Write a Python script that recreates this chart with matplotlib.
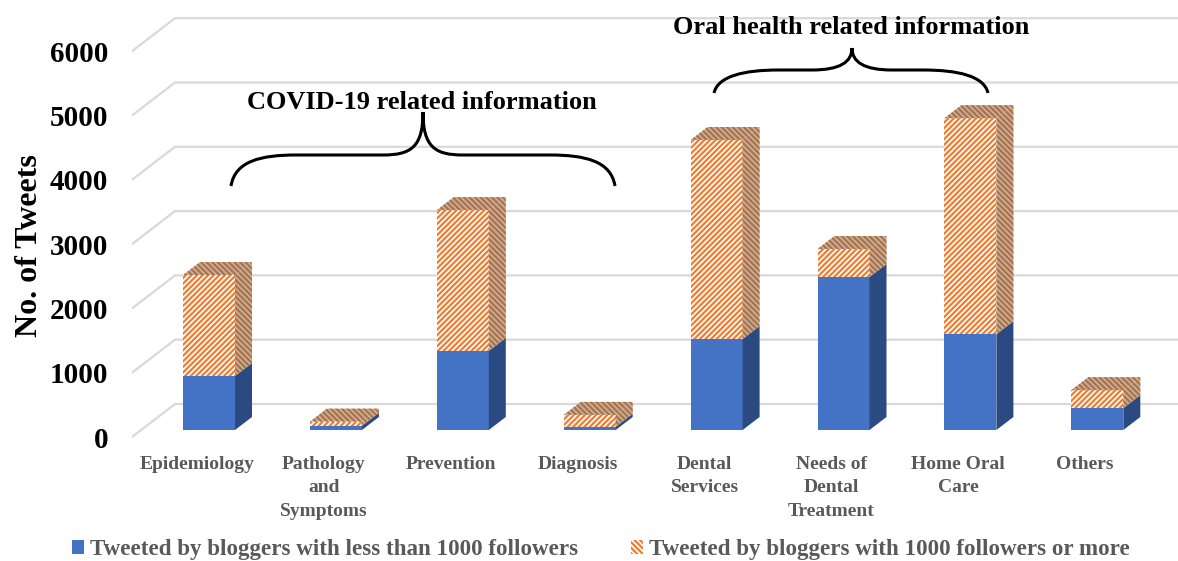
import matplotlib
matplotlib.use("Agg")
import matplotlib.pyplot as plt
from matplotlib.patches import Polygon, PathPatch, Patch
from matplotlib.path import Path
from matplotlib.transforms import Affine2D

categories = ["Epidemiology", "Pathology\nand\nSymptoms", "Prevention", "Diagnosis",
              "Dental\nServices", "Needs of\nDental\nTreatment", "Home Oral\nCare", "Others"]
under_1000 = [840, 65, 1230, 50, 1415, 2380, 1490, 340]
over_1000 = [1570, 65, 2190, 185, 3095, 435, 3360, 280]
y_ticks = [0, 1000, 2000, 3000, 4000, 5000, 6000]
legend_labels = ["Tweeted by bloggers with less than 1000 followers",
                 "Tweeted by bloggers with 1000 followers or more"]

W, H = 1178, 561
PX_X = 126.9
PX_Y = 64.3 / 1000
BLUE, BLUE_DARK = "#4472c4", "#2b4a82"
ORANGE, BROWN_BG, BROWN_HATCH = "#ed7d31", "#cdb09a", "#a8734a"
GRAY = "#595959"
HATCH_FRONT = "/" * 6
HATCH_BACK = "\\" * 6

plt.rcParams["font.family"] = ["Liberation Serif", "DejaVu Serif"]
plt.rcParams["font.weight"] = "bold"
plt.rcParams["axes.labelweight"] = "bold"
plt.rcParams["hatch.linewidth"] = 1.6

fig = plt.figure(figsize=(W / 100, H / 100), dpi=100)
ax = fig.add_axes([132 / W, 111 / H, (W - 132) / W, 450 / H])
ax.set_xlim((132 - 209) / PX_X, (W - 209) / PX_X)
ax.set_ylim(-20 / PX_Y, 430 / PX_Y)
for s in ax.spines.values():
    s.set_visible(False)

bar_w = 52 / PX_X
dx = 17 / PX_X
dy = 13 / PX_Y
x0 = ax.get_xlim()[0]
x_end = ax.get_xlim()[1]

# the axis sits on the front of the floor, a little below the bars
floor = -7 / PX_Y
for v in y_ticks:
    ax.plot([x0, x0 + 43 / PX_X, x_end], [v + floor, v + floor + 33 / PX_Y, v + floor + 33 / PX_Y],
            color="#d9d9d9", lw=1.6, zorder=1, solid_joinstyle="miter")

ax.set_yticks([v + floor for v in y_ticks], [str(v) for v in y_ticks], fontsize=21, color="black")
ax.set_xticks([i - 0.095 for i in range(len(categories))], categories, fontsize=14, color=GRAY,
              linespacing=1.5)
ax.tick_params(axis="y", length=0, pad=17)
ax.tick_params(axis="x", length=0, pad=4)
ax.set_ylabel("No. of Tweets", fontsize=23, color="black", labelpad=0)
ax.yaxis.set_label_coords(-88 / (W - 132), 0.455)


def box(x, low, high, front, side, top, hatch=None, edge=None, side_edge=None, back_hatch=None):
    left, right = x - bar_w / 2, x + bar_w / 2
    ax.bar(x, high - low, bar_w, bottom=low, color=front, hatch=hatch, edgecolor=edge, lw=0, zorder=3)
    ax.add_patch(Polygon([(right, low), (right + dx, low + dy), (right + dx, high + dy), (right, high)],
                         facecolor=side, hatch=back_hatch, edgecolor=side_edge, lw=0, zorder=3))
    if top:
        ax.add_patch(Polygon([(left, high), (left + dx, high + dy), (right + dx, high + dy), (right, high)],
                             facecolor=side, hatch=back_hatch, edgecolor=side_edge, lw=0, zorder=4))


for i in range(len(categories)):
    box(i, 0, under_1000[i], BLUE, BLUE_DARK, False)
    box(i, under_1000[i], under_1000[i] + over_1000[i], "white", BROWN_BG, True,
        HATCH_FRONT, ORANGE, BROWN_HATCH, HATCH_BACK)

# braces, in image pixels
to_px = Affine2D().scale(1, -1).translate(0, H)


def brace(x1, xm, x2, y_low, y_mid, y_tip):
    verts = [(x1, y_low), (x1 + 4, y_mid + 6), (x1 + 30, y_mid), (x1 + 65, y_mid),
             (xm - 45, y_mid), (xm - 60, y_mid), (xm - 40, y_mid),
             (xm - 12, y_mid), (xm, y_mid - 8), (xm, y_tip),
             (xm, y_mid - 8), (xm + 12, y_mid), (xm + 40, y_mid),
             (xm + 60, y_mid), (xm + 45, y_mid), (x2 - 65, y_mid),
             (x2 - 30, y_mid), (x2 - 4, y_mid + 6), (x2, y_low)]
    codes = [Path.MOVETO] + [Path.CURVE4] * 18
    fig.add_artist(PathPatch(Path(verts, codes), fc="none", ec="black", lw=2.2, transform=to_px))


brace(231, 423, 615, 186, 155, 112)
brace(714, 852, 988, 93, 70, 48)

fig.text(422 / W, 1 - 102 / H, "COVID-19 related information", fontsize=19, ha="center", va="center", color="black")
fig.text(851 / W, 1 - 28 / H, "Oral health related information", fontsize=19, ha="center", va="center", color="black")

handles = [Patch(facecolor=BLUE, lw=0),
           Patch(facecolor="white", hatch=HATCH_BACK, edgecolor=ORANGE, lw=0)]
fig.legend(handles, legend_labels, loc="lower left", bbox_to_anchor=(51 / W, -20 / H), ncol=2, frameon=False,
           fontsize=16.6, labelcolor=GRAY, handlelength=0.55, handleheight=0.6, handletextpad=0.25, columnspacing=2.27)

fig.savefig("out.png", dpi=100)
